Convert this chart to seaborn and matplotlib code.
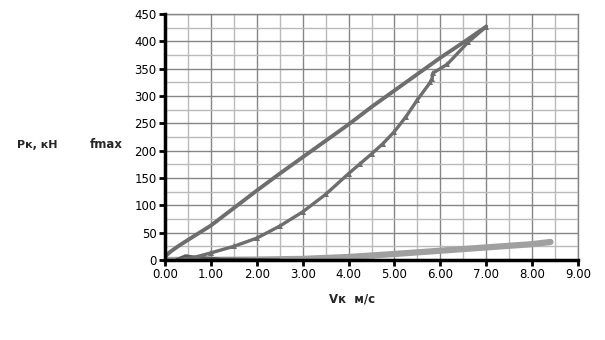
import matplotlib
matplotlib.use("Agg")
import matplotlib.pyplot as plt
from matplotlib.ticker import MultipleLocator, FormatStrFormatter
import seaborn as sns
import pandas as pd

sns.set_theme(style="white")
plt.rcParams['font.family'] = ['DejaVu Sans']

# Traction force on the acceleration branch (upper curve)
v_up = [0.0, 0.1, 0.3, 0.6, 1.0, 1.5, 2.0, 2.5, 3.0, 3.5, 4.0, 4.5, 5.0, 5.5, 6.0, 6.5, 7.0]
p_up = [6, 14, 26, 42, 63, 95, 127, 158, 188, 218, 248, 280, 310, 340, 370, 398, 427]

# Traction force on the return branch (lower curve with markers)
v_low = [7.0, 6.6, 6.15, 5.84, 5.82, 5.78, 5.5, 5.25, 5.0, 4.75, 4.5, 4.25, 4.0, 3.5,
         3.0, 2.5, 2.0, 1.5, 1.0, 0.6, 0.3]
p_low = [427, 398, 358, 342, 332, 325, 293, 262, 235, 213, 194, 176, 158, 120,
         88, 62, 40, 25, 13, 4, 0]

# fmax series
v_f = [0.0, 1.0, 2.0, 3.0, 4.0, 5.0, 6.0, 7.0, 8.0, 8.4]
p_f = [0.0, 0.3, 0.8, 2.0, 5.5, 11, 17, 23, 29, 33]

# Start-up spike at zero speed
v_s = [0.0, 0.0]
p_s = [0.0, 33.0]

# Short low-speed segment
v_d = [0.25, 0.45, 0.6, 1.2, 2.5]
p_d = [1.0, 8.0, 6.0, 2.0, 0.5]

fig = plt.figure(figsize=(6.05, 3.40), dpi=100)
ax = fig.add_axes([0.2727, 0.2353, 0.6827, 0.7235])

dark = "#6e6e6e"
light = "#a0a0a0"

sns.lineplot(data=pd.DataFrame({"v": v_up, "p": p_up}), x="v", y="p", sort=False,
             color=dark, linewidth=2.8, ax=ax, zorder=4)
sns.lineplot(data=pd.DataFrame({"v": v_low, "p": p_low}), x="v", y="p", sort=False,
             color=dark, linewidth=2.4, marker="^", markersize=4, markeredgewidth=0,
             ax=ax, zorder=4)
sns.lineplot(data=pd.DataFrame({"v": v_f, "p": p_f}), x="v", y="p", sort=False,
             color=light, linewidth=4.5, ax=ax, zorder=3)
sns.lineplot(data=pd.DataFrame({"v": v_s, "p": p_s}), x="v", y="p", sort=False,
             color="#9a9a9a", linewidth=6.0, ax=ax, zorder=3)
sns.lineplot(data=pd.DataFrame({"v": v_d, "p": p_d}), x="v", y="p", sort=False,
             color="#5a5a5a", linewidth=2.0, ax=ax, zorder=3)

ax.set_xlim(0, 9)
ax.set_ylim(0, 450)
ax.xaxis.set_major_locator(MultipleLocator(1))
ax.xaxis.set_minor_locator(MultipleLocator(0.5))
ax.yaxis.set_major_locator(MultipleLocator(50))
ax.yaxis.set_minor_locator(MultipleLocator(25))
ax.xaxis.set_major_formatter(FormatStrFormatter("%.2f"))
ax.yaxis.set_major_formatter(FormatStrFormatter("%d"))

ax.grid(which="major", color="#858585", linewidth=1.0)
ax.grid(which="minor", color="#bababa", linewidth=1.0)
ax.set_axisbelow(True)

for side in ("top", "right"):
    ax.spines[side].set_color("#858585")
    ax.spines[side].set_linewidth(1.0)
for side in ("left", "bottom"):
    ax.spines[side].set_color("black")
    ax.spines[side].set_linewidth(2.5)
    ax.spines[side].set_zorder(5)

ax.tick_params(which="major", direction="out", length=4, width=2, color="black",
               labelsize=8.5, labelcolor="black", left=True, bottom=True, pad=2)
ax.tick_params(which="minor", length=0)

ax.set_xlabel("")
ax.set_ylabel("")

fig.text(352 / 605, 1 - 299 / 340, "Vк  м/с", ha="center", va="center",
         fontsize=8.5, fontweight="bold")
fig.text(37 / 605, 1 - 145 / 340, "Pк, кН", ha="center", va="center",
         fontsize=8, fontweight="bold", family=["Liberation Sans Narrow", "DejaVu Sans"])
fig.text(106 / 605, 1 - 145 / 340, "fmax", ha="center", va="center",
         fontsize=8.5, fontweight="bold")

fig.savefig("out.png", dpi=100, facecolor="white")
